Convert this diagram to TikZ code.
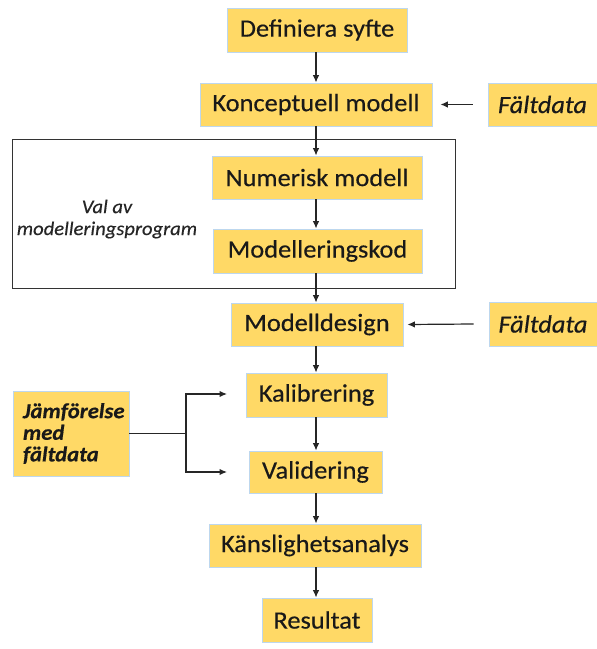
\documentclass[tikz,border=0pt]{standalone}
\usepackage{fontspec}
\setmainfont{Carlito}[FakeStretch=1.06, FakeBold=0.4]
\usetikzlibrary{arrows.meta}
\definecolor{boxfill}{HTML}{FFD966}
\definecolor{boxedge}{HTML}{BDD7EE}
\tikzset{
  stepbox/.style={draw=boxedge, line width=0.8bp, fill=boxfill, inner sep=0pt,
    font=\fontsize{25}{30}\selectfont, text=black!90},
  databox/.style={stepbox, font=\fontsize{25}{30}\selectfont\itshape},
  arr/.style={line width=1.2bp, draw=black!85, -{Latex[length=7.5bp,width=6.5bp]}},
  plain/.style={line width=1.2bp, draw=black!85},
}
\begin{document}
\begin{tikzpicture}[x=1bp,y=-1bp]
\useasboundingbox (0,0) rectangle (597,649);
% group frame
\draw[line width=1bp, draw=black!80] (12,139) rectangle (455,288);
\node (valtxt) at (107,219) [align=center, font=\fontsize{19.5}{22}\selectfont\itshape, text=black!85] {Val av\\modelleringsprogram};
% boxes
\node[stepbox, minimum width=180bp, minimum height=44bp] (def) at (317,30) {Definiera syfte};
\node[stepbox, minimum width=232bp, minimum height=43bp] (kon) at (316,104.5) {Konceptuell modell};
\node[databox, minimum width=109bp, minimum height=43bp] (f1) at (542.5,104.5) {Fältdata};
\node[stepbox, minimum width=210bp, minimum height=43bp] (num) at (317,177.5) {Numerisk modell};
\node[stepbox, minimum width=209bp, minimum height=44bp] (mod) at (317.5,251) {Modelleringskod};
\node[stepbox, minimum width=172bp, minimum height=43bp] (md) at (317,324.5) {Modelldesign};
\node[databox, minimum width=108bp, minimum height=44bp] (f2) at (543,324) {Fältdata};
\node[stepbox, minimum width=141bp, minimum height=44bp] (kal) at (316.5,395) {Kalibrering};
\node[stepbox, minimum width=133bp, minimum height=42bp] (vald) at (315.5,472) {Validering};
\node[stepbox, minimum width=212bp, minimum height=43bp] (kan) at (315,545.5) {Känslighetsanalys};
\node[stepbox, minimum width=110bp, minimum height=44bp] (res) at (317,620) {Resultat};
\node[stepbox, minimum width=116bp, minimum height=85bp, align=left, text width=96bp, inner xsep=10bp,
  font=\fontsize{21.5}{21.7}\selectfont\bfseries\itshape] (jam) at (71,433.5) {Jämförelse\\med\\fältdata};
% vertical flow (all at x = 316)
\coordinate (axis) at (316,0);
\draw[arr] (axis |- def.south) -- (axis |- kon.north);
\draw[arr] (axis |- kon.south) -- (axis |- num.north);
\draw[arr] (axis |- num.south) -- (axis |- mod.north);
\draw[arr] (axis |- mod.south) -- (axis |- md.north);
\draw[arr] (axis |- md.south) -- (axis |- kal.north);
\draw[arr] (axis |- kal.south) -- (axis |- vald.north);
\draw[arr] (axis |- vald.south) -- (axis |- kan.north);
\draw[arr] (axis |- kan.south) -- (axis |- res.north);
% field data inputs
\draw[arr] ([xshift=-15bp]f1.west) -- ([xshift=8bp]kon.east);
\draw[arr] ([xshift=-15bp]f2.west) -- ([xshift=4bp]md.east);
% comparison bracket
\coordinate (br) at (186,433.5);
\coordinate (kt) at (227,394);
\coordinate (vt) at (227,472);
\draw[plain] (jam.east) -- (br);
\draw[arr] (br) |- (kt);
\draw[arr] (br) |- (vt);
\end{tikzpicture}
\end{document}
